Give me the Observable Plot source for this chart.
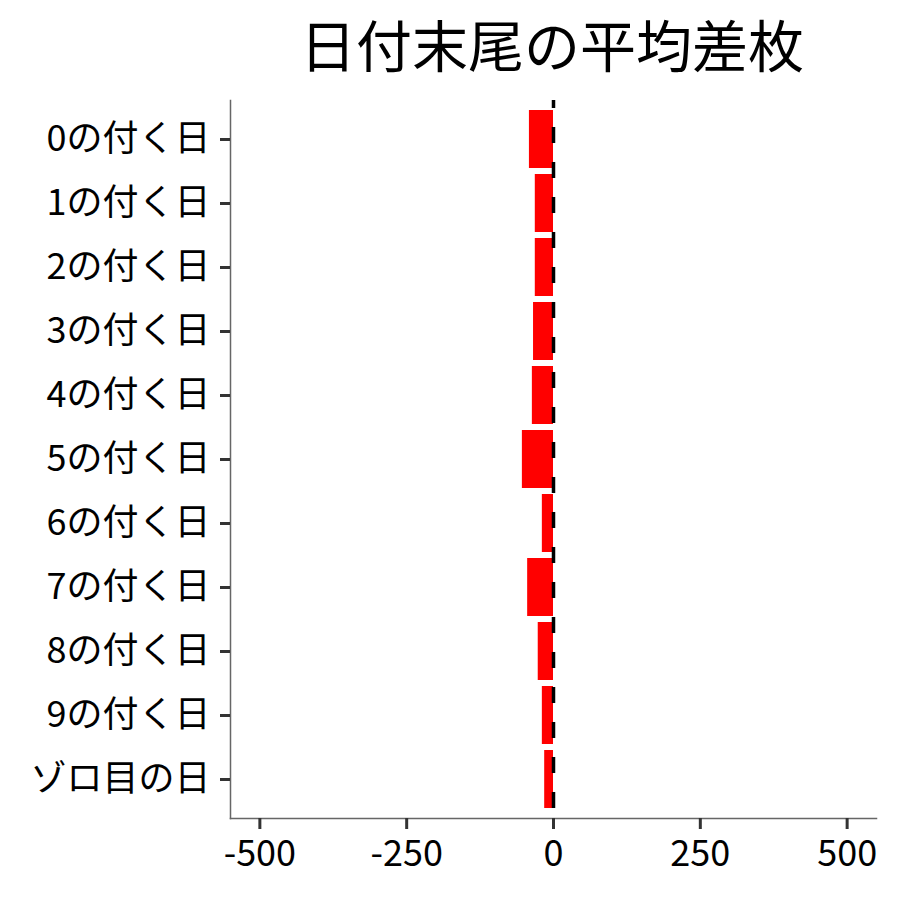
<!DOCTYPE html>
<html>
<head>
<meta charset="utf-8">
<script src="https://cdn.jsdelivr.net/npm/d3@7"></script>
<script src="https://cdn.jsdelivr.net/npm/@observablehq/plot@0.6"></script>
<style>
  html, body { margin: 0; padding: 0; background: #fff; }
  #title { height: 95px; width: 900px; font-family: "Noto Sans CJK JP", sans-serif; font-size: 56px; color: #000; position: relative; }
  #title span { position: absolute; left: 552px; top: 42px; transform: translate(-50%, -50%); white-space: nowrap; }
</style>
</head>
<body>
<div id="title"><span>日付末尾の平均差枚</span></div>
<div id="chart"></div>
<script>
const categories = ["0の付く日","1の付く日","2の付く日","3の付く日","4の付く日","5の付く日","6の付く日","7の付く日","8の付く日","9の付く日","ゾロ目の日"];
const values = [-41, -31, -31, -34, -36, -53, -19, -44, -26, -19, -15];
const xTicks = [-500, -250, 0, 250, 500];
const xDomain = [-550, 550];

const data = categories.map((c, i) => ({cat: c, val: values[i]}));

const plot = Plot.plot({
  width: 900,
  height: 805,
  marginTop: 5,
  marginBottom: 82,
  marginLeft: 230,
  marginRight: 24,
  style: {fontFamily: "'Noto Sans CJK JP', sans-serif", fontSize: "36px", color: "#000", background: "#fff"},
  x: {domain: xDomain, ticks: xTicks, tickFormat: d => String(d), label: null},
  y: {domain: categories, paddingInner: 0.1, paddingOuter: 0.15, label: null},
  marks: [
    Plot.barX(data, {x: "val", y: "cat", fill: "#ff0000"}),
    Plot.ruleX([0], {stroke: "#000", strokeWidth: 3.5, strokeDasharray: "16,19", strokeDashoffset: 8}),
    Plot.frame({anchor: "left", stroke: "#666", strokeWidth: 1.5}),
    Plot.frame({anchor: "bottom", stroke: "#666", strokeWidth: 1.5}),
    Plot.axisX({ticks: xTicks, tickSize: 11, tickPadding: 11, stroke: "#333", strokeWidth: 3, fill: "#000", tickFormat: d => String(d), fontSize: 36, label: null}),
    Plot.axisY({tickSize: 10, tickPadding: 10, stroke: "#333", strokeWidth: 3, fill: "#000", fontSize: 36, label: null})
  ]
});
document.getElementById("chart").appendChild(plot);
</script>
</body>
</html>
